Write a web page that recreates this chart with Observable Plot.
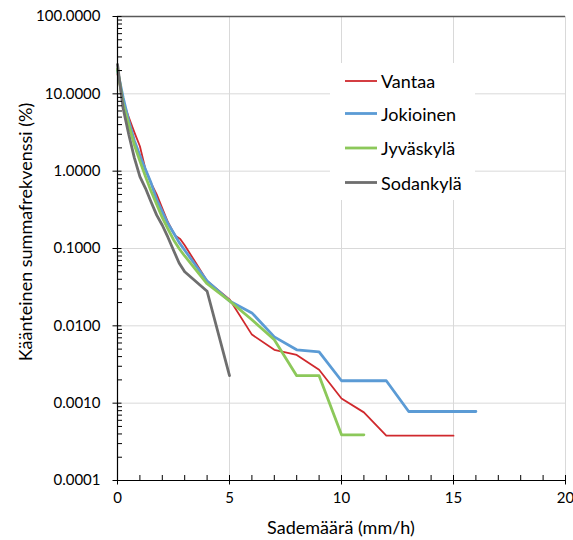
<!DOCTYPE html>
<html>
<head>
<meta charset="utf-8">
<script src="https://cdn.jsdelivr.net/npm/d3@7"></script>
<script src="https://cdn.jsdelivr.net/npm/@observablehq/plot@0.6"></script>
<style>
  html, body { margin: 0; padding: 0; background: #fff; }
  #chart { width: 573px; height: 540px; }
  svg { font-family: Lato, "Open Sans", sans-serif; }
</style>
</head>
<body>
<div id="chart"></div>
<script>
// Data
const series = ["Vantaa", "Jokioinen", "Jyväskylä", "Sodankylä"];
const colors = ["#d0292d", "#5b9bd5", "#8cc85a", "#6e6e6e"];
const widths = [1.8, 2.8, 2.8, 2.8];

const vantaaX = [0, 0.25, 0.5, 0.75, 1, 1.25, 1.5, 1.75, 2, 2.25, 2.5, 2.6, 2.8, 3, 3.5, 4, 5, 6, 7, 8, 9, 10, 11, 12, 13, 14, 15];
const vantaaY = [18, 8, 5, 3.2, 2.1, 1.05, 0.7, 0.5, 0.33, 0.22, 0.16, 0.145, 0.133, 0.11, 0.065, 0.038, 0.022, 0.0077, 0.0049, 0.0042, 0.0027, 0.00115, 0.00076, 0.00038, 0.00038, 0.00038, 0.00038];

const jokioinenX = [0, 0.25, 0.5, 0.75, 1, 1.25, 1.5, 1.75, 2, 2.25, 2.5, 2.75, 3, 4, 5, 6, 7, 8, 9, 10, 11, 12, 13, 14, 15, 16];
const jokioinenY = [20, 9, 4.5, 2.5, 1.6, 1.05, 0.7, 0.43, 0.3, 0.21, 0.16, 0.12, 0.095, 0.038, 0.021, 0.0147, 0.0072, 0.0049, 0.0046, 0.00195, 0.00195, 0.00195, 0.00078, 0.00078, 0.00078, 0.00078];

const jyvaskylaX = [0, 0.25, 0.5, 0.75, 1, 1.25, 1.5, 1.75, 2, 2.25, 2.5, 2.75, 3, 4, 5, 6, 7, 8, 9, 10, 11];
const jyvaskylaY = [21, 7.5, 4, 2.2, 1.35, 0.85, 0.55, 0.37, 0.25, 0.18, 0.13, 0.1, 0.08, 0.035, 0.021, 0.012, 0.0066, 0.00227, 0.00227, 0.00039, 0.00039];

const sodankylaX = [0, 0.25, 0.5, 0.75, 1, 1.25, 1.5, 1.75, 2, 2.25, 2.5, 2.75, 3, 4, 5];
const sodankylaY = [24, 6.5, 3, 1.5, 0.85, 0.6, 0.4, 0.27, 0.2, 0.14, 0.095, 0.065, 0.05, 0.028, 0.00227];

const xTicks = [0, 5, 10, 15, 20];
const xMinor = d3.range(0, 21, 1);
const yTicks = [0.0001, 0.001, 0.01, 0.1, 1, 10, 100];
const yTickLabels = ["0.0001", "0.0010", "0.0100", "0.1000", "1.0000", "10.0000", "100.0000"];
const yMinor = yTicks.slice(0, -1).flatMap(d => d3.range(2, 10).map(k => +(d * k).toPrecision(3)));
const yLabelOf = new Map(yTicks.map((d, i) => [d, yTickLabels[i]]));

const xs = [vantaaX, jokioinenX, jyvaskylaX, sodankylaX];
const ys = [vantaaY, jokioinenY, jyvaskylaY, sodankylaY];
const rows = series.flatMap((s, i) => xs[i].map((x, j) => ({series: s, x, y: ys[i][j]})));

const plot = Plot.plot({
  width: 573,
  height: 540,
  marginLeft: 117,
  marginRight: 8,
  marginTop: 16,
  marginBottom: 60,
  style: {fontFamily: "Lato, 'Open Sans', sans-serif", fontSize: "15px", color: "#000", background: "#fff", overflow: "visible"},
  x: {domain: [0, 20], label: null},
  y: {type: "log", domain: [0.0001, 100], label: null},
  marks: [
    Plot.ruleX(xTicks.slice(1), {stroke: "#d9d9d9", strokeWidth: 1}),
    Plot.ruleY(yTicks.slice(1, -1), {stroke: "#d9d9d9", strokeWidth: 1}),
    ...series.map((s, i) => Plot.line(rows.filter(d => d.series === s), {
      x: "x", y: "y", stroke: colors[i], strokeWidth: widths[i], strokeLinejoin: "round"
    })),
    Plot.ruleY(yTicks.slice(-1), {stroke: "#595959", strokeWidth: 1.3}),
    // axis lines
    Plot.ruleX(xTicks.slice(0, 1), {stroke: "#000", strokeWidth: 1.2}),
    Plot.ruleY(yTicks.slice(0, 1), {stroke: "#000", strokeWidth: 1.2}),
    // y ticks
    Plot.axisY(yMinor, {anchor: "left", tickSize: 5, dx: 5, tickFormat: () => "", stroke: "#000", label: null}),
    Plot.axisY(yTicks, {anchor: "left", tickSize: 9, dx: 4.5, tickFormat: () => "", stroke: "#000", label: null}),
    Plot.axisY(yTicks, {anchor: "left", tickSize: 0, tickPadding: 17, tickFormat: d => yLabelOf.get(d), fontSize: 15, label: null}),
    // x ticks
    Plot.axisX(xMinor, {anchor: "bottom", tickSize: 5, dy: -5, tickFormat: () => "", stroke: "#000", label: null}),
    Plot.axisX(xTicks, {anchor: "bottom", tickSize: 9, dy: -4.5, tickFormat: () => "", stroke: "#000", label: null}),
    Plot.axisX(xTicks, {anchor: "bottom", tickSize: 0, tickPadding: 12, fontSize: 15, label: null})
  ]
});

document.getElementById("chart").appendChild(plot);

const svg = d3.select(plot);
// axis titles
svg.append("text")
  .attr("x", 341).attr("y", 527)
  .attr("text-anchor", "middle").attr("dominant-baseline", "central")
  .attr("font-size", 18).attr("fill", "#000")
  .text("Sademäärä (mm/h)");
svg.append("text")
  .attr("transform", "translate(25,232) rotate(-90)")
  .attr("text-anchor", "middle").attr("dominant-baseline", "central")
  .attr("font-size", 18).attr("fill", "#000")
  .text("Käänteinen summafrekvenssi (%)");

// legend
const lg = svg.append("g").attr("text-anchor", "start");
lg.append("rect").attr("x", 330).attr("y", 63).attr("width", 145).attr("height", 137).attr("fill", "#fff");
const rowY = [81, 113.5, 148, 182.5];
series.forEach((s, i) => {
  lg.append("line").attr("x1", 345).attr("x2", 377).attr("y1", rowY[i]).attr("y2", rowY[i])
    .attr("stroke", colors[i]).attr("stroke-width", widths[i]);
  lg.append("text").attr("x", 381).attr("y", rowY[i])
    .attr("text-anchor", "start")
    .attr("dominant-baseline", "central").attr("font-size", 18).attr("fill", "#000")
    .text(s);
});
</script>
</body>
</html>
